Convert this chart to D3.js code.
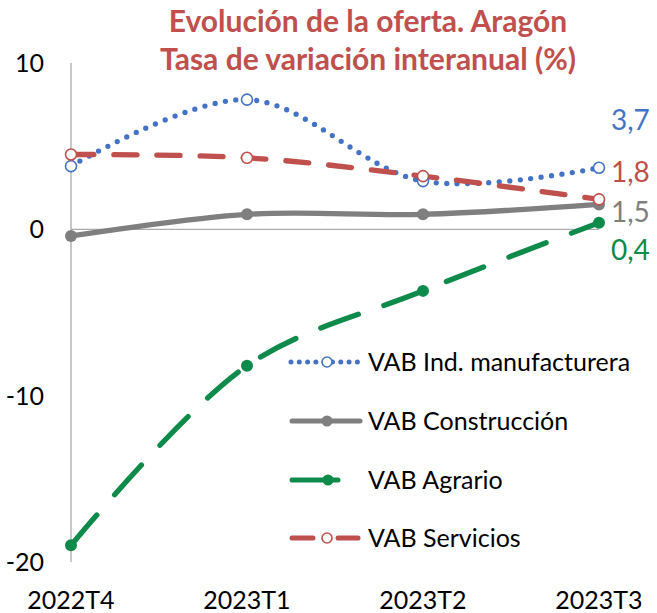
<!DOCTYPE html>
<html>
<head>
<meta charset="utf-8">
<script src="https://cdn.jsdelivr.net/npm/d3@7"></script>
<style>
  body { margin: 0; background: #fff; }
  text { font-family: Lato, "Open Sans", sans-serif; }
</style>
</head>
<body>
<svg id="chart" width="657" height="613"></svg>
<script>
const quarters = ["2022T4", "2023T1", "2023T2", "2023T3"];
const manufactura = [3.8, 7.8, 2.9, 3.7];
const construccion = [-0.4, 0.9, 0.9, 1.5];
const agrario = [-19.0, -8.2, -3.7, 0.4];
const servicios = [4.5, 4.3, 3.2, 1.8];
const yTicks = [10, 0, -10, -20];
const titleLines = ["Evolución de la oferta. Aragón", "Tasa de variación interanual (%)"];

const series = [
  { name: "VAB Ind. manufacturera", values: manufactura, color: "#4472C4", dash: "0 10.5", open: true, labelY: 120 },
  { name: "VAB Construcción", values: construccion, color: "#7F7F7F", dash: null, open: false, labelY: 212 },
  { name: "VAB Agrario", values: agrario, color: "#0E8A4A", dash: "40 27", open: false, labelY: 250 },
  { name: "VAB Servicios", values: servicios, color: "#C0504D", dash: "23 20", open: true, labelY: 172 }
];

const svg = d3.select("#chart");

const x = d3.scalePoint().domain(quarters).range([71, 599]);
const y = d3.scaleLinear().domain([-20, 10]).range([562, 63]);

// title
svg.selectAll(".title")
  .data(titleLines)
  .enter().append("text")
  .attr("x", 368)
  .attr("y", (d, i) => 32 + i * 38)
  .attr("text-anchor", "middle")
  .attr("font-size", 30)
  .attr("font-weight", "bold")
  .attr("fill", "#C0504D")
  .text(d => d);

// y axis line + zero line
svg.append("line")
  .attr("x1", 71).attr("x2", 71)
  .attr("y1", y(10)).attr("y2", y(-20))
  .attr("stroke", "#ABABAB").attr("stroke-width", 1.3);
svg.append("line")
  .attr("x1", 71).attr("x2", 599)
  .attr("y1", y(0)).attr("y2", y(0))
  .attr("stroke", "#ABABAB").attr("stroke-width", 1.3);

// tick labels
svg.selectAll(".ytick")
  .data(yTicks)
  .enter().append("text")
  .attr("x", 44)
  .attr("y", d => y(d) + 9)
  .attr("text-anchor", "end")
  .attr("font-size", 25)
  .attr("fill", "#000")
  .text(d => d);

svg.selectAll(".xtick")
  .data(quarters)
  .enter().append("text")
  .attr("x", d => x(d))
  .attr("y", 609)
  .attr("text-anchor", "middle")
  .attr("font-size", 25)
  .attr("fill", "#000")
  .text(d => d);

const line = d3.line()
  .x((d, i) => x(quarters[i]))
  .y(d => y(d))
  .curve(d3.curveCatmullRom.alpha(0.5));

// draw order: agrario, construccion, manufactura, servicios
const order = [2, 1, 0, 3];
order.forEach(k => {
  const s = series[k];
  svg.append("path")
    .attr("d", line(s.values))
    .attr("fill", "none")
    .attr("stroke", s.color)
    .attr("stroke-width", 5.3)
    .attr("stroke-linecap", "round")
    .attr("stroke-dasharray", s.dash);
});
order.forEach(k => {
  const s = series[k];
  svg.selectAll(null)
    .data(s.values)
    .enter().append("circle")
    .attr("cx", (d, i) => x(quarters[i]))
    .attr("cy", d => y(d))
    .attr("r", s.open ? 5.5 : 6)
    .attr("fill", s.open ? "#fff" : s.color)
    .attr("stroke", s.color)
    .attr("stroke-width", s.open ? 1.6 : 0);
});

// end labels
series.forEach(s => {
  svg.append("text")
    .attr("x", 611)
    .attr("y", s.labelY + 10)
    .attr("font-size", 28)
    .attr("fill", s.color)
    .text(d3.format(".1f")(s.values[3]).replace(".", ","));
});

// legend
const legY = [362, 421, 480, 538];
series.forEach((s, k) => {
  const g = svg.append("g").attr("transform", `translate(0,${legY[k]})`);
  if (k === 0) {
    g.append("line").attr("x1", 291).attr("x2", 362).attr("y1", 0).attr("y2", 0)
      .attr("stroke", s.color).attr("stroke-width", 5).attr("stroke-linecap", "round")
      .attr("stroke-dasharray", "0 8.3");
  } else if (k === 1) {
    g.append("line").attr("x1", 292).attr("x2", 360).attr("y1", 0).attr("y2", 0)
      .attr("stroke", s.color).attr("stroke-width", 5).attr("stroke-linecap", "round");
  } else if (k === 2) {
    g.append("line").attr("x1", 292).attr("x2", 338).attr("y1", 0).attr("y2", 0)
      .attr("stroke", s.color).attr("stroke-width", 5).attr("stroke-linecap", "round");
  } else {
    g.append("line").attr("x1", 292).attr("x2", 313).attr("y1", 0).attr("y2", 0)
      .attr("stroke", s.color).attr("stroke-width", 5).attr("stroke-linecap", "round");
    g.append("line").attr("x1", 338).attr("x2", 358).attr("y1", 0).attr("y2", 0)
      .attr("stroke", s.color).attr("stroke-width", 5).attr("stroke-linecap", "round");
  }
  g.append("circle")
    .attr("cx", k === 2 ? 328 : 327).attr("cy", 0)
    .attr("r", s.open ? 5 : 5.5)
    .attr("fill", s.open ? "#fff" : s.color)
    .attr("stroke", s.color)
    .attr("stroke-width", s.open ? 1.6 : 0);
  g.append("text")
    .attr("x", 368).attr("y", 9)
    .attr("font-size", 25)
    .attr("fill", "#000")
    .text(s.name);
});
</script>
</body>
</html>
